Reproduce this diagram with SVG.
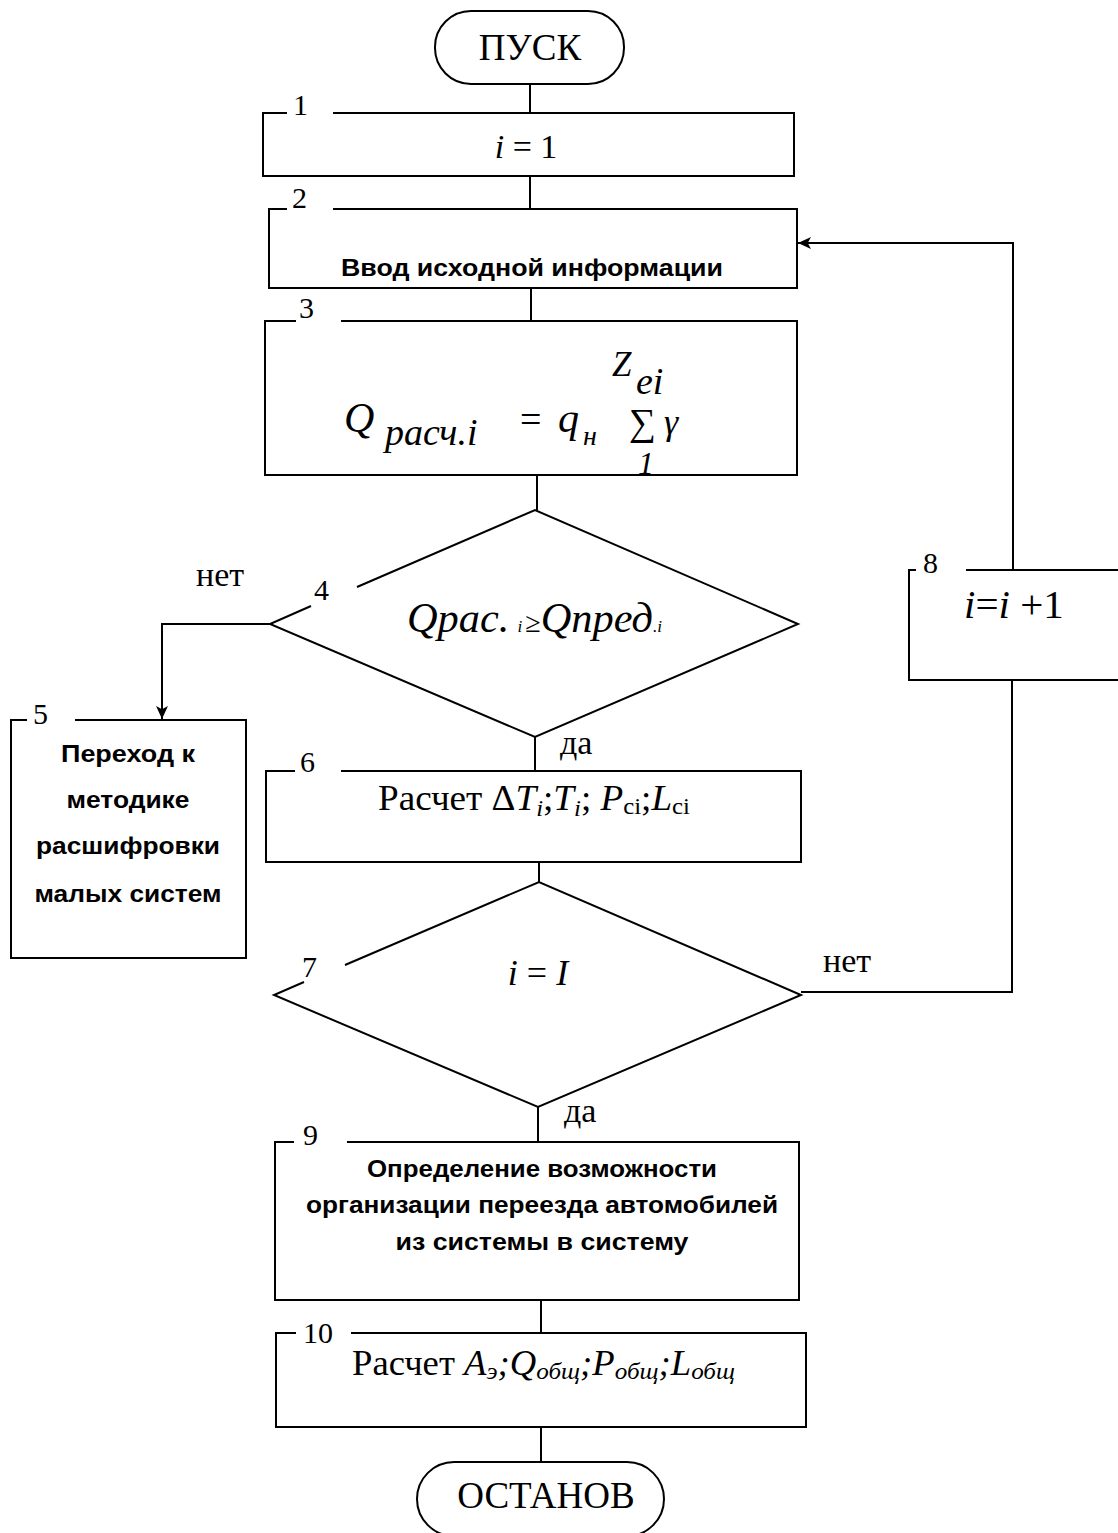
<svg xmlns="http://www.w3.org/2000/svg" width="1118" height="1533" viewBox="0 0 1118 1533">
  <style>
    .ln{fill:none;stroke:#000;stroke-width:2}
    .tx{font-family:"Liberation Serif","Times New Roman",serif;fill:#000}
    .bd{font-family:"Liberation Sans",Arial,sans-serif;font-weight:bold;fill:#000;font-size:24px}
    .num{font-family:"Liberation Serif","Times New Roman",serif;font-size:30px;fill:#000}
    .it{font-style:italic}
  </style>
  <defs>
    <marker id="arr" viewBox="0 0 12 12" refX="12" refY="6" markerWidth="13" markerHeight="13" markerUnits="userSpaceOnUse" orient="auto">
      <path d="M0,0.5 L12,6 L0,11.5 L3,6 Z" fill="#000"/>
    </marker>
  </defs>
  <rect width="1118" height="1533" fill="#fff"/>

  <!-- connectors -->
  <g id="connectors" class="ln">
    <path d="M530,84 V113"/>
    <path d="M530,176 V209"/>
    <path d="M531,288 V321"/>
    <path d="M537,475 V510"/>
    <path d="M270,624 H162 V719" marker-end="url(#arr)"/>
    <path d="M535,737 V771"/>
    <path d="M539,862 V882"/>
    <path d="M801,992 H1012 V680"/>
    <path d="M1013,570 V243 H798" marker-end="url(#arr)"/>
    <path d="M538,1107 V1142"/>
    <path d="M541,1300 V1333"/>
    <path d="M541,1427 V1462"/>
  </g>
  <g id="edge-labels" class="tx" font-size="34">
    <text x="560" y="754">да</text>
    <text x="196" y="586">нет</text>
    <text x="823" y="972">нет</text>
    <text x="564" y="1122">да</text>
  </g>

  <!-- start terminal -->
  <g id="start">
    <rect class="ln" x="435" y="11" width="189" height="73" rx="36"/>
    <text class="tx" x="530" y="60" font-size="37" text-anchor="middle">ПУСК</text>
  </g>

  <!-- 1: i = 1 -->
  <g id="n1">
    <path class="ln" d="M333,113 H794 V176 H263 V113 H287"/>
    <text class="num" x="293" y="115">1</text>
    <text class="tx" x="526" y="158" font-size="34" text-anchor="middle"><tspan class="it">i</tspan> = 1</text>
  </g>

  <!-- 2: input -->
  <g id="n2">
    <path class="ln" d="M333,209 H797 V288 H269 V209 H287"/>
    <text class="num" x="292" y="208">2</text>
    <text class="bd" x="532" y="276" text-anchor="middle" textLength="382" lengthAdjust="spacingAndGlyphs">Ввод исходной информации</text>
  </g>

  <!-- 3: formula -->
  <g id="n3">
    <path class="ln" d="M341,321 H797 V475 H265 V321 H296"/>
    <text class="num" x="299" y="318">3</text>
    <g class="tx it">
      <text x="344" y="432" font-size="42">Q</text>
      <text x="385" y="445" font-size="38">расч.i</text>
      <text x="520" y="432" font-size="38" font-style="normal">=</text>
      <text x="558" y="432" font-size="42">q</text>
      <text x="583" y="445" font-size="28">н</text>
      <text x="629" y="435" font-size="38" font-style="normal">∑</text>
      <text x="664" y="434" font-size="36">γ</text>
      <text x="612" y="376" font-size="35">Z</text>
      <text x="636" y="394" font-size="38">ei</text>
      <text x="638" y="474" font-size="32">1</text>
    </g>
  </g>

  <!-- 4: decision -->
  <g id="n4">
    <path class="ln" d="M357,587 L535,510 L798,624 L535,737 L270,624 L311,606"/>
    <text class="num" x="314" y="600">4</text>
    <text class="tx it" x="407" y="632" font-size="42" textLength="255" lengthAdjust="spacingAndGlyphs">Qрас.<tspan font-size="17" dx="8">i</tspan><tspan font-style="normal" font-size="28" dx="3">≥</tspan>Qпред<tspan font-size="17">.i</tspan></text>
  </g>

  <!-- 5: small systems -->
  <g id="n5">
    <path class="ln" d="M75,720 H246 V958 H11 V720 H27"/>
    <text class="num" x="33" y="724">5</text>
    <g class="bd" text-anchor="middle">
      <text x="128" y="762" textLength="134" lengthAdjust="spacingAndGlyphs">Переход к</text>
      <text x="128" y="808" textLength="123" lengthAdjust="spacingAndGlyphs">методике</text>
      <text x="128" y="854" textLength="184" lengthAdjust="spacingAndGlyphs">расшифровки</text>
      <text x="128" y="902" textLength="187" lengthAdjust="spacingAndGlyphs">малых систем</text>
    </g>
  </g>

  <!-- 6: calculation -->
  <g id="n6">
    <path class="ln" d="M341,771 H801 V862 H266 V771 H295"/>
    <text class="num" x="300" y="772">6</text>
    <text class="tx" x="378" y="810" font-size="36" textLength="312" lengthAdjust="spacingAndGlyphs">Расчет Δ<tspan class="it">T</tspan><tspan class="it" font-size="24" dy="6">i</tspan><tspan dy="-6">;</tspan><tspan class="it">T</tspan><tspan class="it" font-size="24" dy="6">i</tspan><tspan dy="-6">; </tspan><tspan class="it">P</tspan><tspan font-size="24" dy="4">ci</tspan><tspan dy="-4">;</tspan><tspan class="it">L</tspan><tspan font-size="24" dy="4">ci</tspan></text>
  </g>

  <!-- 7: decision -->
  <g id="n7">
    <path class="ln" d="M345,965 L539,882 L801,995 L538,1107 L274,995 L304,982"/>
    <text class="num" x="302" y="977">7</text>
    <text class="tx" x="538" y="985" font-size="36" text-anchor="middle"><tspan class="it">i</tspan> = <tspan class="it">I</tspan></text>
  </g>

  <!-- 8: increment -->
  <g id="n8">
    <path class="ln" d="M966,570 H1130 M1130,680 H909 V570 H916"/>
    <text class="num" x="923" y="573">8</text>
    <text class="tx" x="964" y="618" font-size="41"><tspan class="it">i</tspan>=<tspan class="it">i</tspan> +1</text>
  </g>

  <!-- 9: transfer -->
  <g id="n9">
    <path class="ln" d="M347,1142 H799 V1300 H275 V1142 H294"/>
    <text class="num" x="303" y="1145">9</text>
    <g class="bd" text-anchor="middle">
      <text x="542" y="1177" textLength="350" lengthAdjust="spacingAndGlyphs">Определение возможности</text>
      <text x="542" y="1213" textLength="472" lengthAdjust="spacingAndGlyphs">организации переезда автомобилей</text>
      <text x="542" y="1250" textLength="293" lengthAdjust="spacingAndGlyphs">из системы в систему</text>
    </g>
  </g>

  <!-- 10: totals -->
  <g id="n10">
    <path class="ln" d="M351,1333 H806 V1427 H276 V1333 H296"/>
    <text class="num" x="303" y="1343">10</text>
    <text class="tx" x="352" y="1375" font-size="35" textLength="383" lengthAdjust="spacingAndGlyphs">Расчет <tspan class="it">A</tspan><tspan class="it" font-size="24" dy="4">э</tspan><tspan class="it" dy="-4">;Q</tspan><tspan class="it" font-size="24" dy="4">общ</tspan><tspan class="it" dy="-4">;P</tspan><tspan class="it" font-size="24" dy="4">общ</tspan><tspan class="it" dy="-4">;L</tspan><tspan class="it" font-size="24" dy="4">общ</tspan></text>
  </g>

  <!-- stop terminal -->
  <g id="stop">
    <rect class="ln" x="417" y="1462" width="247" height="74" rx="37"/>
    <text class="tx" x="546" y="1508" font-size="37" text-anchor="middle">ОСТАНОВ</text>
  </g>
</svg>
